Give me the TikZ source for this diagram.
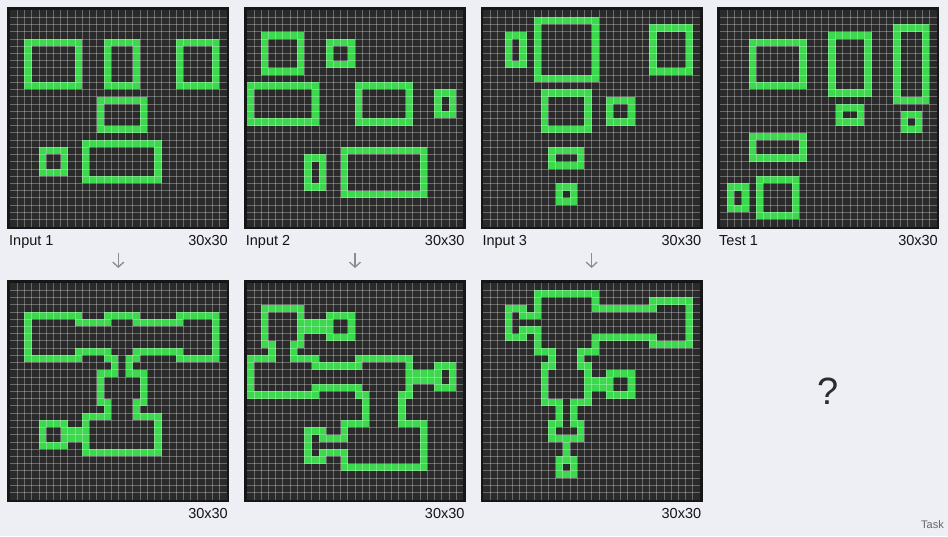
\documentclass[tikz,border=0pt]{standalone}
\usepackage{fontspec}
\setmainfont{Liberation Sans}
\usetikzlibrary{arrows.meta}
\definecolor{bgc}{RGB}{238,238,245}
\definecolor{gcol}{RGB}{60,216,78}
\definecolor{dcol}{RGB}{42,42,42}
\definecolor{frm}{RGB}{22,22,22}
\definecolor{txc}{RGB}{20,20,20}
\definecolor{arc}{RGB}{140,140,140}
\newcommand\Gr[4]{\fill[gcol] ({#3},{#1}) rectangle ({#4+1},{#2+1});}
\newcommand\Dk[4]{\fill[dcol] ({#3},{#1}) rectangle ({#4+1},{#2+1});}
\newcommand\Bx[4]{\Gr{#1}{#2}{#3}{#4}\Dk{#1+1}{#2-1}{#3+1}{#4-1}}
\newcommand\Panel[3]{%
\begin{scope}[shift={(#1pt,-#2pt)},x=7.2222pt,y=-7.2222pt]
\fill[dcol] (0,0) rectangle (30,30);
#3
\foreach \i in {1,...,29} {\draw[white, opacity=0.3, line width=0.6pt] (\i,0) -- (\i,30); \draw[white, opacity=0.3, line width=0.6pt] (0,\i) -- (30,\i);}
\draw[frm, line width=2.7pt] (-0.187,-0.187) rectangle (30.187,30.187);
\end{scope}}
\begin{document}
\begin{tikzpicture}[x=1pt,y=-1pt,
  lbl/.style={font=\fontsize{14.5}{17}\selectfont, text=txc, inner sep=0pt},
  arr/.style={draw=arc, line width=1.3pt, -{Straight Barb[length=5pt,width=11pt]}}]
\useasboundingbox (0,0) rectangle (948,536);
\fill[bgc] (0,0) rectangle (948,536);
% Input 1
\Panel{10}{10}{\Bx{4}{10}{2}{9}\Bx{4}{10}{13}{17}\Bx{4}{10}{23}{28}\Bx{12}{16}{12}{18}\Bx{19}{22}{4}{7}\Bx{18}{23}{10}{20}}
% Input 2
\Panel{246.67}{10}{\Bx{3}{8}{2}{7}\Bx{4}{7}{11}{14}\Bx{10}{15}{0}{9}\Bx{10}{15}{15}{22}\Bx{11}{14}{26}{28}\Bx{20}{24}{8}{10}\Bx{19}{25}{13}{24}}
% Input 3
\Panel{483.33}{10}{\Bx{3}{7}{3}{5}\Bx{1}{9}{7}{15}\Bx{2}{8}{23}{28}\Bx{11}{16}{8}{14}\Bx{12}{15}{17}{20}\Bx{19}{21}{9}{13}\Bx{24}{26}{10}{12}}
% Test 1
\Panel{720}{10}{\Bx{4}{10}{4}{11}\Bx{3}{11}{15}{20}\Bx{2}{12}{24}{28}\Bx{13}{15}{16}{19}\Bx{14}{16}{25}{27}\Bx{17}{20}{4}{11}\Bx{24}{27}{1}{3}\Bx{23}{28}{5}{10}}
% Output 1
\Panel{10}{283}{%
\Gr{4}{10}{2}{9}\Gr{4}{10}{13}{17}\Gr{4}{10}{23}{28}\Gr{12}{16}{12}{18}\Gr{19}{22}{4}{7}\Gr{18}{23}{10}{20}%
\Gr{5}{9}{10}{12}\Gr{5}{9}{18}{22}\Gr{11}{11}{14}{16}\Gr{17}{17}{13}{17}\Gr{20}{21}{8}{9}%
\Dk{5}{9}{3}{8}\Dk{5}{9}{14}{16}\Dk{5}{9}{24}{27}\Dk{6}{8}{3}{27}\Dk{10}{12}{15}{15}\Dk{13}{15}{13}{17}\Dk{16}{18}{14}{16}\Dk{19}{22}{11}{19}\Dk{20}{21}{5}{6}}
% Output 2
\Panel{246.67}{283}{%
\Gr{3}{8}{2}{7}\Gr{4}{7}{11}{14}\Gr{10}{15}{0}{9}\Gr{10}{15}{15}{22}\Gr{11}{14}{26}{28}\Gr{20}{24}{8}{10}\Gr{19}{25}{13}{24}%
\Gr{5}{6}{8}{10}\Gr{9}{9}{3}{6}\Gr{11}{14}{10}{14}\Gr{12}{13}{23}{25}\Gr{16}{18}{16}{21}\Gr{21}{23}{11}{12}%
\Dk{4}{7}{3}{6}\Dk{8}{10}{4}{5}\Dk{5}{6}{12}{13}\Dk{11}{14}{1}{8}\Dk{12}{13}{1}{21}\Dk{11}{14}{16}{21}\Dk{12}{13}{27}{27}\Dk{15}{19}{17}{20}\Dk{20}{24}{14}{23}\Dk{21}{23}{9}{9}\Dk{22}{22}{9}{13}}
% Output 3
\Panel{483.33}{283}{%
\Gr{3}{7}{3}{5}\Gr{1}{9}{7}{15}\Gr{2}{8}{23}{28}\Gr{11}{16}{8}{14}\Gr{12}{15}{17}{20}\Gr{19}{21}{9}{13}\Gr{24}{26}{10}{12}%
\Gr{4}{6}{6}{6}\Gr{3}{7}{16}{22}\Gr{10}{10}{9}{13}\Gr{13}{14}{15}{16}\Gr{17}{18}{10}{12}\Gr{22}{23}{11}{11}%
\Dk{4}{6}{4}{4}\Dk{5}{5}{4}{7}\Dk{2}{8}{8}{14}\Dk{4}{6}{8}{27}\Dk{3}{7}{24}{27}\Dk{9}{11}{10}{12}\Dk{12}{15}{9}{13}\Dk{13}{14}{18}{19}\Dk{16}{19}{11}{11}\Dk{20}{20}{10}{12}\Dk{25}{25}{11}{11}}
% labels
\node[lbl, anchor=base west] (in1) at (9,245) {Input 1};
\node[lbl, anchor=base east] (s1) at (228,245) {30x30};
\node[lbl, anchor=base west] (in2) at (245.67,245) {Input 2};
\node[lbl, anchor=base east] (s2) at (464.67,245) {30x30};
\node[lbl, anchor=base west] (in3) at (482.33,245) {Input 3};
\node[lbl, anchor=base east] (s3) at (701.33,245) {30x30};
\node[lbl, anchor=base west] (ts1) at (719,245) {Test 1};
\node[lbl, anchor=base east] (s4) at (938,245) {30x30};
\node[lbl, anchor=base east] (o1) at (228,518) {30x30};
\node[lbl, anchor=base east] (o2) at (464.67,518) {30x30};
\node[lbl, anchor=base east] (o3) at (701.33,518) {30x30};
% arrows
\coordinate (a1s) at (118.3,253); \coordinate (a1e) at (118.3,268);
\coordinate (a2s) at (355,253); \coordinate (a2e) at (355,268);
\coordinate (a3s) at (591.6,253); \coordinate (a3e) at (591.6,268);
\draw[arr] (a1s) -- (a1e);
\draw[arr] (a2s) -- (a2e);
\draw[arr] (a3s) -- (a3e);
\node[font=\fontsize{38}{40}\selectfont, text=txc!90, inner sep=0pt] (q) at (828.3,391.5) {?};
\node[font=\fontsize{11}{13}\selectfont, text=black!60, inner sep=0pt, anchor=base east] (task) at (944,528) {Task};
\end{tikzpicture}
\end{document}
